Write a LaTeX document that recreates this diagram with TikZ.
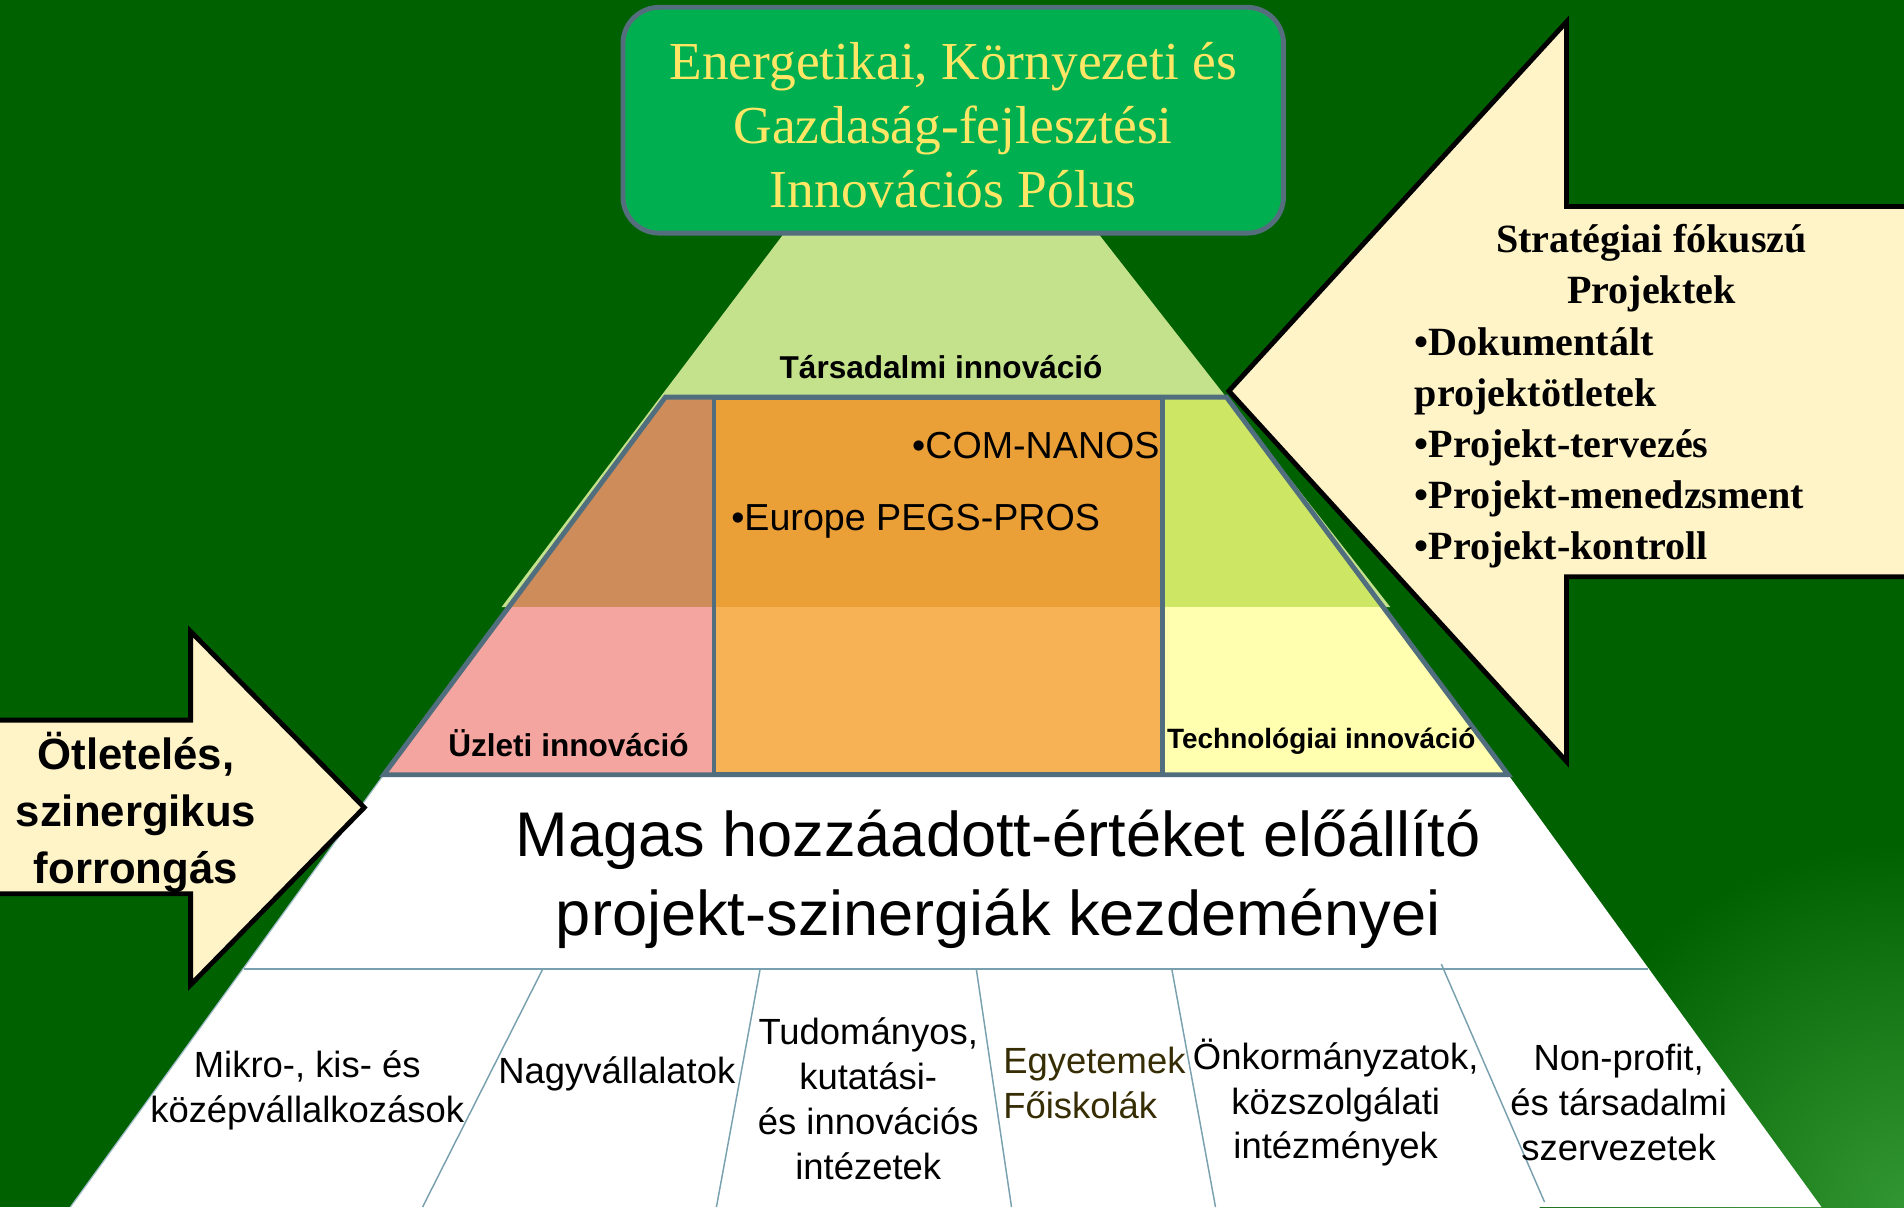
\documentclass[tikz,border=0pt]{standalone}
\usepackage{fontspec}
\setmainfont{Liberation Serif}
\newfontfamily\arialf{Liberation Sans}
\newfontfamily\tnrf{Liberation Serif}
\definecolor{bg}{RGB}{0,97,0}
\definecolor{cornergreen}{RGB}{50,150,50}
\definecolor{boxgreen}{RGB}{0,176,80}
\definecolor{boxline}{RGB}{85,110,125}
\definecolor{titleyellow}{RGB}{255,230,100}
\definecolor{cream}{RGB}{255,243,200}
\definecolor{socgreen}{RGB}{196,226,140}
\definecolor{lefttop}{RGB}{205,140,90}
\definecolor{leftbot}{RGB}{245,165,160}
\definecolor{midtop}{RGB}{235,160,55}
\definecolor{midbot}{RGB}{247,178,85}
\definecolor{righttop}{RGB}{205,230,100}
\definecolor{rightbot}{RGB}{255,255,175}
\definecolor{bandline}{RGB}{80,110,125}
\definecolor{thinline}{RGB}{120,160,175}
\definecolor{olive}{RGB}{55,45,5}
\tikzset{
  arrowshape/.style={fill=cream, draw=black, line width=4pt, line join=miter},
  bandborder/.style={draw=bandline, line width=4pt, line join=miter},
  divider/.style={draw=thinline, line width=1.2pt},
  lbl/.style={inner sep=0pt, font=\arialf\bfseries\fontsize{26}{30}\selectfont},
  bottomtxt/.style={inner sep=0pt, align=center, font=\arialf\fontsize{30}{37}\selectfont},
}
\begin{document}
\begin{tikzpicture}[x=1pt,y=-1pt]
\useasboundingbox (0,0) rectangle (1568,994);
\fill[bg] (0,0) rectangle (1568,994);
\begin{scope}
\clip (0,0) rectangle (1568,994);
\shade[inner color=cornergreen, outer color=bg] (1568,994) circle (300);
\end{scope}

% white base
\fill[white] (316,638) -- (1242,638) -- (1500,994) -- (58,994) -- cycle;
\draw[thinline!70, line width=1pt] (316,638) -- (58,994);
% social (green) layer
\fill[socgreen] (645,193) -- (905,193) -- (1145,500) -- (413,500) -- cycle;
% band regions
\fill[lefttop] (548,327) -- (588,327) -- (588,500) -- (419,500) -- cycle;
\fill[leftbot] (419,500) -- (588,500) -- (588,638) -- (316,638) -- cycle;
\fill[midtop] (588,327) rectangle (957,500);
\fill[midbot] (588,500) rectangle (957,638);
\fill[righttop] (957,327) -- (1010,327) -- (1139,500) -- (957,500) -- cycle;
\fill[rightbot] (957,500) -- (1139,500) -- (1242,638) -- (957,638) -- cycle;
% band outlines
\path[bandborder] (548,327) -- (1010,327) -- (1242,638) -- (316,638) -- cycle;
\path[bandborder] (588,327) rectangle (957,638);

% base lines
\coordinate (hl) at (201,798);
\coordinate (hr) at (1357,798);
\path[divider] (hl) -- (hr);
\coordinate (d1a) at (447,798); \coordinate (d1b) at (348,994);
\coordinate (d2a) at (626,798); \coordinate (d2b) at (590,994);
\coordinate (d3a) at (804,798); \coordinate (d3b) at (833,994);
\coordinate (d4a) at (965,798); \coordinate (d4b) at (1001,994);
\coordinate (d5a) at (1187,794); \coordinate (d5b) at (1272,990);
\path[divider] (d1a) -- (d1b);
\path[divider] (d2a) -- (d2b);
\path[divider] (d3a) -- (d3b);
\path[divider] (d4a) -- (d4b);
\path[divider] (d5a) -- (d5b);

% left arrow
\path[arrowshape] (-10,593) -- (157,593) -- (157,520) -- (300,665) -- (157,811) -- (157,736) -- (-10,736) -- cycle;
% right arrow
\path[arrowshape] (1580,170) -- (1290,170) -- (1290,18) -- (1012,322) -- (1290,627) -- (1290,475) -- (1580,475) -- cycle;

% top box
\node[draw=boxline, line width=4pt, fill=boxgreen, rounded corners=30pt,
      minimum width=544pt, minimum height=186pt, inner sep=0pt] (pole) at (785,99) {};
\node[inner sep=0pt, align=center, text=titleyellow,
      font=\tnrf\fontsize{44}{53}\selectfont] (poletxt) at (785,103)
  {Energetikai, Környezeti és\\Gazdaság-fejlesztési\\Innovációs Pólus};

% labels in pyramid
\node[lbl] (tars) at (775,302) {Társadalmi innováció};
\node[lbl, anchor=west] (uzl) at (369,612) {Üzleti innováció};
\node[lbl, anchor=west, font=\arialf\bfseries\fontsize{23}{27}\selectfont] (tech) at (961,610) {Technológiai innováció};
\node[inner sep=0pt, anchor=west, font=\arialf\fontsize{31}{36}\selectfont] (com) at (751,367) {•COM-NANOS};
\node[inner sep=0pt, anchor=west, font=\arialf\fontsize{31}{36}\selectfont] (eur) at (602,429) {•Europe PEGS-PROS};

% big text
\node[inner sep=0pt, align=center, font=\arialf\fontsize{52}{65}\selectfont] (magas) at (822,724)
  {Magas hozzáadott-értéket előállító\\projekt-szinergiák kezdeményei};

% bottom texts
\node[bottomtxt] (mikro) at (253,898) {Mikro-, kis- és\\középvállalkozások};
\node[bottomtxt] (nagy) at (508,884) {Nagyvállalatok};
\node[bottomtxt] (tud) at (715,905) {Tudományos,\\kutatási-\\és innovációs\\intézetek};
\node[bottomtxt, align=left, anchor=west, text=olive] (egy) at (826,892) {Egyetemek\\Főiskolák};
\node[bottomtxt] (onk) at (1100,908) {Önkormányzatok,\\közszolgálati\\intézmények};
\node[bottomtxt] (nonp) at (1333,908) {Non-profit,\\és társadalmi\\szervezetek};

% left arrow text
\node[inner sep=0pt, align=center, font=\arialf\bfseries\fontsize{36}{47}\selectfont] (otlet) at (112,669)
  {Ötletelés,\\szinergikus\\forrongás};

% right arrow text
\node[inner sep=0pt, align=center, font=\tnrf\bfseries\fontsize{33}{42}\selectfont] (strat) at (1360,221)
  {Stratégiai fókuszú\\Projektek};
\node[inner sep=0pt, align=left, anchor=west, font=\tnrf\bfseries\fontsize{33}{42}\selectfont] (lista) at (1165,369)
  {•Dokumentált\\projektötletek\\•Projekt-tervezés\\•Projekt-menedzsment\\•Projekt-kontroll};
\end{tikzpicture}
\end{document}
